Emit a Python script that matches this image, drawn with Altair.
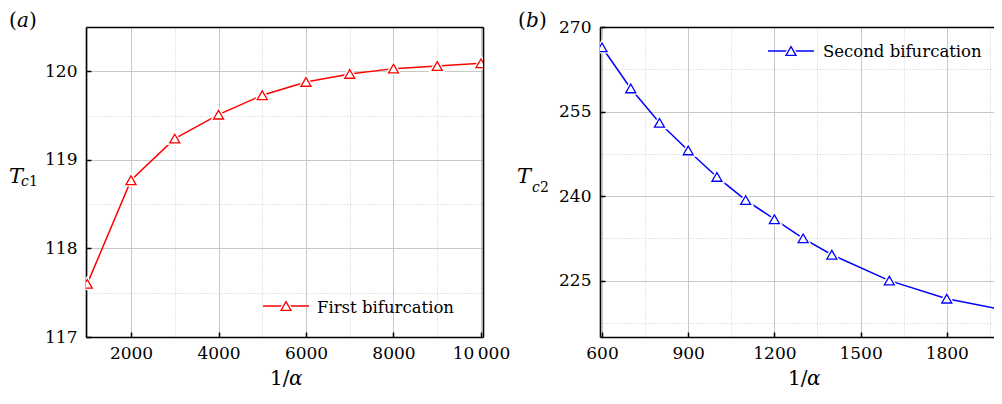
import altair as alt
import pandas as pd

# ---------------- data ----------------
# Panel (a): first bifurcation
a_x = [1000, 2000, 3000, 4000, 5000, 6000, 7000, 8000, 9000, 10000]
a_y = [117.60, 118.77, 119.24, 119.51, 119.73, 119.88, 119.97, 120.03, 120.06, 120.09]
a_xticks = [2000, 4000, 6000, 8000, 10000]
a_xminor = [1000, 3000, 5000, 7000, 9000]
a_yticks = [117, 118, 119, 120]
a_yminor = [117.5, 118.5, 119.5]

# Panel (b): second bifurcation
b_x = [600, 700, 800, 900, 1000, 1100, 1200, 1300, 1400, 1600, 1800, 2000]
b_y = [266.4, 259.1, 253.0, 248.1, 243.4, 239.3, 235.9, 232.5, 229.6, 225.0, 221.8, 219.8]
b_xticks = [600, 900, 1200, 1500, 1800]
b_xminor = [750, 1050, 1350, 1650, 1950]
b_yticks = [225, 240, 255, 270]
b_yminor = [217.5, 232.5, 247.5, 262.5]

FONT = "DejaVu Serif"
dummy = pd.DataFrame({"k": [0]})


def txt(s, x, y, size, style="normal"):
    return alt.Chart(dummy).mark_text(
        text=s, font=FONT, fontSize=size, fontStyle=style, align="left",
        baseline="alphabetic", color="black"
    ).encode(x=alt.value(x), y=alt.value(y))


def make_panel(xs, ys, xdom, ydom, xt, xm, yt, ym, color, w, h, right_frame,
               leg, texts):
    df = pd.DataFrame({"x": xs, "y": ys})
    sx = alt.Scale(domain=xdom, nice=False, zero=False)
    sy = alt.Scale(domain=ydom, nice=False, zero=False)
    base = alt.Chart(df)

    def enc(xa, ya):
        return dict(x=alt.X("x:Q", scale=sx, axis=xa),
                    y=alt.Y("y:Q", scale=sy, axis=ya))

    main_x = alt.Axis(orient="bottom", values=xt, grid=True, gridColor="#c8c8c8",
                      gridWidth=1, ticks=False, domain=True, domainColor="black",
                      domainWidth=1.6, labels=True, labelFont=FONT, labelFontSize=17,
                      labelColor="black", labelPadding=8, labelFlush=False,
                      labelOverlap=False, format="d", title=None,
                      labelExpr="datum.value >= 10000 ? '10\u2009000' : datum.label")
    main_y = alt.Axis(orient="left", values=yt, grid=True, gridColor="#c8c8c8",
                      gridWidth=1, ticks=False, domain=True, domainColor="black",
                      domainWidth=1.6, labels=True, labelFont=FONT, labelFontSize=17,
                      labelColor="black", labelPadding=9, labelFlush=False,
                      labelOverlap=False, format="d", title=None)
    minor_x = alt.Axis(orient="bottom", values=xm, grid=True, gridColor="#cdcdcd",
                       gridDash=[1, 2], gridWidth=1, ticks=False, domain=False,
                       labels=False, title=None)
    minor_y = alt.Axis(orient="left", values=ym, grid=True, gridColor="#cdcdcd",
                       gridDash=[1, 2], gridWidth=1, ticks=False, domain=False,
                       labels=False, title=None)
    tick_x = alt.Axis(orient="bottom", values=xt, grid=False, ticks=True, tickSize=5,
                      tickWidth=1.5, tickColor="black", domain=False, labels=False,
                      title=None, offset=-5)
    tick_y = alt.Axis(orient="left", values=yt, grid=False, ticks=True, tickSize=5,
                      tickWidth=1.5, tickColor="black", domain=False, labels=False,
                      title=None, offset=-5)
    top_x = alt.Axis(orient="top", grid=False, ticks=False, labels=False, domain=True,
                     domainColor="black", domainWidth=1.6, title=None)
    right_y = (alt.Axis(orient="right", grid=False, ticks=False, labels=False,
                        domain=True, domainColor="black", domainWidth=1.6, title=None)
               if right_frame else None)

    layers = [
        base.mark_line(opacity=0).encode(**enc(minor_x, minor_y)),
        base.mark_line(color=color, strokeWidth=1.5, clip=True).encode(**enc(main_x, main_y)),
        base.mark_line(opacity=0).encode(**enc(tick_x, tick_y)),
        base.mark_line(opacity=0).encode(**enc(top_x, right_y)),
        base.mark_point(shape="triangle-up", size=100, filled=True, fill="white",
                        stroke="white", strokeWidth=4, opacity=1, clip=True
                        ).encode(**enc(None, None)),
        base.mark_point(shape="triangle-up", size=100, filled=True, fill="white",
                        stroke=color, strokeWidth=1.3, opacity=1, clip=True
                        ).encode(**enc(None, None)),
    ]
    # legend
    lx1, lx2, ly, ltx, lty, label = leg
    layers += [
        alt.Chart(dummy).mark_rule(color=color, strokeWidth=1.5).encode(
            x=alt.value(lx1), x2=alt.value(lx2), y=alt.value(ly)),
        alt.Chart(dummy).mark_point(shape="triangle-up", size=100, filled=True,
                                    fill="white", stroke="white", strokeWidth=4,
                                    opacity=1).encode(x=alt.value((lx1 + lx2) / 2),
                                                      y=alt.value(ly)),
        alt.Chart(dummy).mark_point(shape="triangle-up", size=100, filled=True,
                                    fill="white", stroke=color, strokeWidth=1.3,
                                    opacity=1).encode(x=alt.value((lx1 + lx2) / 2),
                                                      y=alt.value(ly)),
        txt(label, ltx, lty, 16.5),
    ]
    layers += texts
    return alt.layer(*layers).resolve_axis(x="independent", y="independent").properties(
        width=w, height=h)


W_A, W_B, H = 397, 403, 310

texts_a = [
    txt("(", -77, 0, 20), txt("a", -69, 0, 20, "italic"), txt(")", -57, 0, 20),
    txt("T", -77, 156, 21, "italic"), txt("c", -65, 159, 14, "italic"),
    txt("1", -57, 159, 14),
    txt("1/", 184, 358, 20), txt("α", 203, 358, 20, "italic"),
]
texts_b = [
    txt("(", -82, 0, 20), txt("b", -74, 0, 20, "italic"), txt(")", -61, 0, 20),
    txt("T", -83, 156, 21, "italic"), txt("c", -68, 165, 14, "italic"),
    txt("2", -60, 165, 14),
    txt("1/", 188, 358, 20), txt("α", 207, 358, 20, "italic"),
]

pa = make_panel(a_x, a_y, [971, 10046], [117, 120.5], a_xticks, a_xminor, a_yticks,
                a_yminor, "#ff0000", W_A, H, True,
                (177, 223, 279, 231, 286, "First bifurcation"), texts_a)
pb = make_panel(b_x, b_y, [593, 1995.7], [215, 270], b_xticks, b_xminor, b_yticks,
                b_yminor, "#0000ff", W_B, H, False,
                (168, 214, 24, 223, 30, "Second bifurcation"), texts_b)

chart = alt.hconcat(pa, pb, spacing=117, bounds="flush",
                    padding={"left": 0, "top": 2, "right": -11, "bottom": 1}
                    ).configure_view(stroke=None).configure(background="white")

chart.save("out.html", embed_options={"renderer": "svg", "actions": False})
